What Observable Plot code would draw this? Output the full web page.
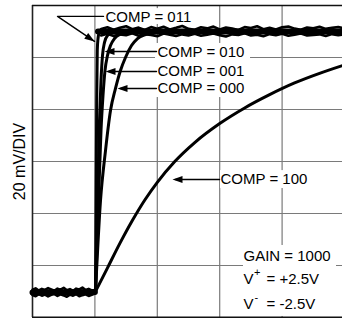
<!DOCTYPE html>
<html><head><meta charset="utf-8">
<script src="https://cdn.jsdelivr.net/npm/d3@7"></script>
<script src="https://cdn.jsdelivr.net/npm/@observablehq/plot@0.6"></script>
<style>html,body{margin:0;padding:0;background:#fff;}</style>
</head><body><div id="chart"></div>
<script>
// time in divisions, amplitude in mV (20 mV/DIV)
const t011 = [1.010,1.019,1.029,1.038,1.050,1.066,1.106,1.186];
const v011 = [10.0,45.0,83.5,102.7,107.3,109.2,110.0,110.0];
const t010 = [1.010,1.042,1.074,1.098,1.122,1.154,1.202,1.282,1.410];
const v010 = [10.0,45.0,75.8,91.2,100.8,105.8,108.5,109.6,110.0];
const t001 = [1.010,1.058,1.098,1.130,1.162,1.202,1.250,1.314,1.394,1.506,1.699];
const v001 = [10.0,45.0,71.9,85.4,95.0,100.8,104.6,107.3,108.8,109.6,110.0];
const t000 = [1.010,1.090,1.170,1.250,1.330,1.410,1.490,1.587,1.683,1.811,1.987,2.212];
const v000 = [10.0,45.0,64.2,79.6,88.1,95.0,100.0,104.6,107.3,108.8,109.6,110.0];
const t100 = [1.010,1.2,1.4,1.6,1.8,2.0,2.28,2.6,3.0,3.4,3.8,4.2,4.6,4.97];
const v100 = [10.0,19.0,28.5,37.3,45.2,52.0,60.0,67.3,74.6,80.6,85.7,90.2,93.9,96.9];

// noisy baseline before the step (upper edge, lower edge, centre)
const baseT = [0,0.05,0.1,0.15,0.2,0.25,0.3,0.35,0.4,0.45,0.5,0.55,0.6,0.65,0.7,0.75,0.8,0.85,0.9,0.95,1.0];
const baseUp = [10.7,11.2,10.4,11.0,10.6,11.3,10.8,10.3,11.1,10.7,11.4,10.5,10.9,10.2,11.1,10.8,11.5,10.6,11.0,10.4,10.6];
const baseLow = [8.6,8.2,9.0,8.4,8.8,8.1,8.7,9.1,8.3,8.9,8.5,8.0,8.8,8.4,9.0,8.2,8.6,8.9,8.3,8.7,9.2];
const baseMidT = [0,1.0];
const baseMidV = [9.6,9.8];
// noisy settled level
const topT = [1.1,1.2,1.3,1.4,1.5,1.6,1.7,1.8,1.9,2.0,2.1,2.2,2.3,2.4,2.5,2.6,2.7,2.8,2.9,3.0,3.1,3.2,3.3,3.4,3.5,3.6,3.7,3.8,3.9,4.0,4.1,4.2,4.3,4.4,4.5,4.6,4.7,4.8,4.9,5.0];
const topUp = [111.0,111.6,110.7,111.4,112.0,110.9,111.5,110.6,111.7,111.1,111.8,110.8,111.4,112.1,111.0,110.7,111.6,111.2,111.9,110.8,111.5,111.1,110.6,111.7,111.3,112.0,110.9,111.4,110.8,111.6,111.9,111.1,110.7,111.5,111.2,111.8,111.0,111.4,111.7,111.2];
const topLow = [108.5,109.1,108.3,108.9,108.6,109.3,108.4,109.0,108.7,108.2,109.2,108.8,108.3,108.9,108.5,109.1,108.4,108.8,109.2,108.6,108.1,108.9,108.7,109.3,108.5,108.8,108.2,109.0,108.6,109.1,108.4,108.8,109.2,108.5,108.7,108.9,108.3,109.0,108.6,108.9];
const topMidT = [1.05,5.0];
const topMidV = [110.0,110.0];

const xTicks = [1,2,3,4];
const yTicks = [20,40,60,80,100];

// annotations
const labelText = ["COMP = 011","COMP = 010","COMP = 001","COMP = 000","COMP = 100"];
const labelX = [1.170,2.003,2.003,2.003,3.013];
const labelY = [115.6,101.9,94.8,88.1,53.1];
const tipX = [0.994,1.154,1.170,1.362,2.244];
const tipY = [106.2,102.3,94.6,88.1,53.1];
const tipRot = [124,-90,-90,-90,-90];
const tailX = [0.401,1.987,1.987,1.987,2.997];
const elbowX = [1.138];
const infoText = ["GAIN = 1000","V","= +2.5V","V","= -2.5V"];
const infoY = [23.65,14.6,14.6,5.0,5.0];
const infoX = 3.381;
const bgX1 = [1.138,1.971,3.013,3.381];
const bgX2 = [2.660,3.494,4.503,4.872];
const bgY1 = [112.7,84.6,49.6,0.4];
const bgY2 = [118.8,105.4,56.5,27.7];

const mk = (t, v, code) => t.map((d, i) => ({t: d, v: v[i], code}));
const traces = [
  ...mk(t011, v011, "011"), ...mk(t010, v010, "010"), ...mk(t001, v001, "001"),
  ...mk(t000, v000, "000")
];
const slow = mk(t100, v100, "100");
const edges = [
  ...mk(baseT, baseUp, "bU"), ...mk(baseT, baseLow, "bL"),
  ...mk(topT, topUp, "tU"), ...mk(topT, topLow, "tL")
];
const mids = [...mk(baseMidT, baseMidV, "bM"), ...mk(topMidT, topMidV, "tM")];
const leaders = [];
leaders.push({x: elbowX[0], y: labelY[0] + 0.2, k: 0});
leaders.push({x: tailX[0], y: labelY[0] + 0.2, k: 0});
leaders.push({x: tipX[0], y: tipY[0], k: 0});
for (let i = 1; i < 5; i++) {
  leaders.push({x: tailX[i], y: tipY[i], k: i});
  leaders.push({x: tipX[i] + 0.05, y: tipY[i], k: i});
}
const heads = tipX.map((x, i) => ({x, y: tipY[i], r: tipRot[i]}));
const labels = labelText.map((s, i) => ({s, x: labelX[i], y: labelY[i]}));
const bgs = bgX1.map((x1, i) => ({x1, x2: bgX2[i], y1: bgY1[i], y2: bgY2[i]}));

const arrowHead = {draw(ctx) { ctx.moveTo(0, 0); ctx.lineTo(-3.5, 10); ctx.lineTo(3.5, 10); ctx.closePath(); }};
const font = "Liberation Sans, Arial, Helvetica, sans-serif";
const txt = (data, opts) => Plot.text(data, {fontFamily: font, fontSize: 15, fill: "black", textAnchor: "start", ...opts});

const chart = Plot.plot({
  width: 342, height: 318,
  marginLeft: 32, marginRight: 0, marginTop: 5, marginBottom: 1,
  x: {domain: [0, 4.968], axis: null},
  y: {domain: [0, 120], axis: null},
  style: {background: "white"},
  marks: [
    Plot.ruleX(xTicks, {stroke: "#7a7a7a", strokeWidth: 1.2}),
    Plot.ruleY(yTicks, {stroke: "#7a7a7a", strokeWidth: 1.2}),
    Plot.rect(bgs, {x1: "x1", x2: "x2", y1: "y1", y2: "y2", fill: "white"}),
    Plot.ruleX([0], {stroke: "#222", strokeWidth: 1.6}),
    Plot.ruleY([0], {stroke: "#111", strokeWidth: 2}),
    Plot.ruleY([120], {stroke: "#111", strokeWidth: 1.6}),
    Plot.line(mids, {x: "t", y: "v", z: "code", stroke: "black", strokeWidth: 6}),
    Plot.line(edges, {x: "t", y: "v", z: "code", stroke: "black", strokeWidth: 2.6, strokeLinejoin: "round"}),
    Plot.line(traces, {x: "t", y: "v", z: "code", curve: "monotone-x", stroke: "black", strokeWidth: 3}),
    Plot.line(slow, {x: "t", y: "v", curve: "monotone-x", stroke: "black", strokeWidth: 3}),
    Plot.line(leaders, {x: "x", y: "y", z: "k", stroke: "black", strokeWidth: 1.4}),
    Plot.dot(heads, {x: "x", y: "y", rotate: "r", symbol: arrowHead, fill: "black", stroke: "none", r: 4}),
    txt(labels, {x: "x", y: "y", text: "s"}),
    txt([infoText[0]], {x: () => infoX, y: () => infoY[0], text: d => d}),
    txt([infoText[1]], {x: () => infoX, y: () => infoY[1], text: d => d}),
    txt(["+"], {x: () => infoX, y: () => infoY[1], text: d => d, fontSize: 11, dx: 10.5, dy: -7}),
    txt([infoText[2]], {x: () => infoX, y: () => infoY[2], text: d => d, dx: 23}),
    txt([infoText[3]], {x: () => infoX, y: () => infoY[3], text: d => d}),
    txt(["-"], {x: () => infoX, y: () => infoY[3], text: d => d, fontSize: 11, dx: 11, dy: -7}),
    txt([infoText[4]], {x: () => infoX, y: () => infoY[4], text: d => d, dx: 23}),
    Plot.text(["20 mV/DIV"], {frameAnchor: "left", dx: -13, dy: 0, rotate: -90, fontFamily: font, fontSize: 16, fill: "black", textAnchor: "middle"})
  ]
});
document.getElementById("chart").appendChild(chart);
</script></body></html>
